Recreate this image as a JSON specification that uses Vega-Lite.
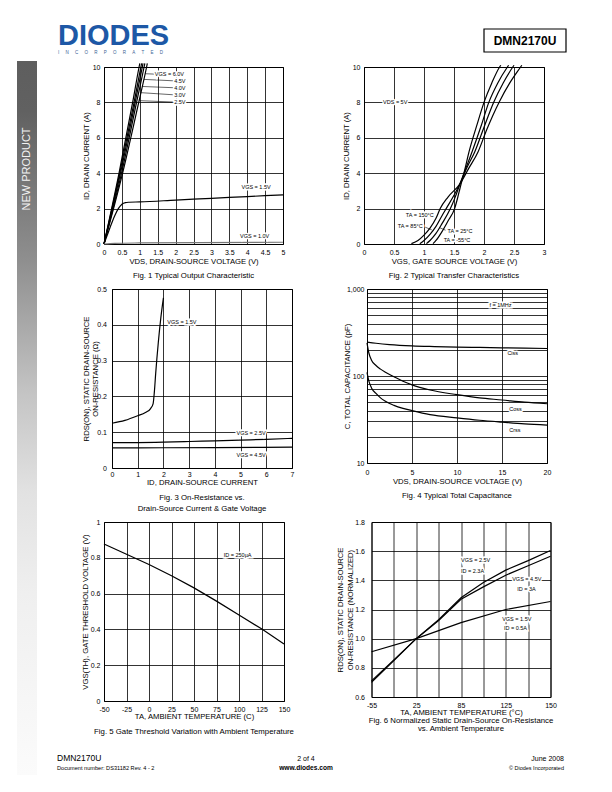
{
"$schema": "https://vega.github.io/schema/vega-lite/v6.json",
"background": "white",
"padding": {"left": 17, "top": 20, "right": 0, "bottom": 0},
"spacing": 0,
"config": {
  "font": "Liberation Sans",
  "view": {"stroke": "black", "strokeWidth": 1},
  "axis": {"domain": false, "ticks": false, "grid": true, "gridColor": "black", "gridWidth": 0.8, "gridOpacity": 1, "labelFontSize": 7, "labelColor": "black", "labelPadding": 4, "labelFlush": false, "labelOverlap": false, "titleFontSize": 7.7, "titleFontWeight": "normal", "titleColor": "black", "titlePadding": 2, "labelFont": "Liberation Sans", "titleFont": "Liberation Sans"},
  "title": {"orient": "bottom", "fontSize": 7.8, "fontWeight": "normal", "color": "black", "frame": "group", "offset": 5, "font": "Liberation Sans"},
  "line": {"color": "black", "strokeWidth": 1.2},
  "text": {"color": "black", "fontSize": 5.5}
},
"datasets": {
  "f1": [
    {"s":"6.0V","x":0,"y":0},{"s":"6.0V","x":0.42,"y":4},{"s":"6.0V","x":0.8,"y":8},{"s":"6.0V","x":0.98,"y":10},{"s":"6.0V","x":1.0,"y":10.2},
    {"s":"4.5V","x":0,"y":0},{"s":"4.5V","x":0.44,"y":4},{"s":"4.5V","x":0.84,"y":8},{"s":"4.5V","x":1.03,"y":10},{"s":"4.5V","x":1.05,"y":10.2},
    {"s":"4.0V","x":0,"y":0},{"s":"4.0V","x":0.46,"y":4},{"s":"4.0V","x":0.87,"y":8},{"s":"4.0V","x":1.07,"y":10},{"s":"4.0V","x":1.09,"y":10.2},
    {"s":"3.0V","x":0,"y":0},{"s":"3.0V","x":0.49,"y":4},{"s":"3.0V","x":0.91,"y":8},{"s":"3.0V","x":1.12,"y":10},{"s":"3.0V","x":1.14,"y":10.2},
    {"s":"2.5V","x":0,"y":0},{"s":"2.5V","x":0.52,"y":4},{"s":"2.5V","x":0.97,"y":8},{"s":"2.5V","x":1.19,"y":10},{"s":"2.5V","x":1.21,"y":10.2},
    {"s":"1.5V","x":0,"y":0},{"s":"1.5V","x":0.1,"y":0.55},{"s":"1.5V","x":0.2,"y":1.1},{"s":"1.5V","x":0.3,"y":1.6},{"s":"1.5V","x":0.4,"y":2.0},{"s":"1.5V","x":0.5,"y":2.25},{"s":"1.5V","x":0.6,"y":2.34},{"s":"1.5V","x":0.7,"y":2.36},{"s":"1.5V","x":1,"y":2.38},{"s":"1.5V","x":2,"y":2.48},{"s":"1.5V","x":3,"y":2.58},{"s":"1.5V","x":4,"y":2.68},{"s":"1.5V","x":5,"y":2.78},
    {"s":"1.0V","x":0,"y":0},{"s":"1.0V","x":0.3,"y":0.04},{"s":"1.0V","x":1,"y":0.06},{"s":"1.0V","x":5,"y":0.1}
  ],
  "f1lab": [
    {"x":1.42,"y":9.6,"t":"VGS = 6.0V"},{"x":1.96,"y":9.22,"t":"4.5V"},{"x":1.96,"y":8.83,"t":"4.0V"},{"x":1.96,"y":8.43,"t":"3.0V"},{"x":1.96,"y":8.02,"t":"2.5V"},
    {"x":3.84,"y":3.22,"t":"VGS = 1.5V"},{"x":3.8,"y":0.47,"t":"VGS = 1.0V"}
  ],
  "f1lead": [
    {"x":1.15,"y":9.62,"x2":1.4,"y2":9.6},{"x":1.11,"y":9.3,"x2":1.94,"y2":9.22},{"x":1.07,"y":8.9,"x2":1.94,"y2":8.83},{"x":1.03,"y":8.55,"x2":1.94,"y2":8.43},{"x":0.98,"y":8.1,"x2":1.94,"y2":8.02}
  ],
  "f2": [
    {"s":"150","x":0.79,"y":0.02},{"s":"150","x":0.9,"y":0.2},{"s":"150","x":1.0,"y":0.5},{"s":"150","x":1.1,"y":0.9},{"s":"150","x":1.2,"y":1.45},{"s":"150","x":1.27,"y":2.0},{"s":"150","x":1.4,"y":2.65},{"s":"150","x":1.6,"y":3.4},{"s":"150","x":1.75,"y":4.3},{"s":"150","x":1.9,"y":5.2},{"s":"150","x":2.05,"y":6.5},{"s":"150","x":2.25,"y":8.0},{"s":"150","x":2.43,"y":9.1},{"s":"150","x":2.61,"y":10},{"s":"150","x":2.63,"y":10.1},
    {"s":"85","x":0.93,"y":0.02},{"s":"85","x":1.0,"y":0.2},{"s":"85","x":1.1,"y":0.55},{"s":"85","x":1.2,"y":1.0},{"s":"85","x":1.3,"y":1.6},{"s":"85","x":1.37,"y":2.0},{"s":"85","x":1.5,"y":2.75},{"s":"85","x":1.6,"y":3.4},{"s":"85","x":1.72,"y":4.35},{"s":"85","x":1.845,"y":5.2},{"s":"85","x":2.0,"y":6.6},{"s":"85","x":2.16,"y":8.0},{"s":"85","x":2.32,"y":9.1},{"s":"85","x":2.48,"y":10},{"s":"85","x":2.5,"y":10.1},
    {"s":"25","x":1.04,"y":0.02},{"s":"25","x":1.1,"y":0.2},{"s":"25","x":1.2,"y":0.6},{"s":"25","x":1.3,"y":1.15},{"s":"25","x":1.44,"y":2.0},{"s":"25","x":1.52,"y":2.65},{"s":"25","x":1.6,"y":3.4},{"s":"25","x":1.7,"y":4.3},{"s":"25","x":1.8,"y":5.2},{"s":"25","x":1.95,"y":6.65},{"s":"25","x":2.08,"y":8.0},{"s":"25","x":2.23,"y":9.1},{"s":"25","x":2.39,"y":10},{"s":"25","x":2.41,"y":10.1},
    {"s":"-55","x":1.15,"y":0.02},{"s":"-55","x":1.2,"y":0.2},{"s":"-55","x":1.3,"y":0.7},{"s":"-55","x":1.4,"y":1.3},{"s":"-55","x":1.51,"y":2.0},{"s":"-55","x":1.56,"y":2.6},{"s":"-55","x":1.6,"y":3.15},{"s":"-55","x":1.68,"y":4.2},{"s":"-55","x":1.75,"y":5.2},{"s":"-55","x":1.88,"y":6.7},{"s":"-55","x":2.0,"y":8.0},{"s":"-55","x":2.13,"y":9.1},{"s":"-55","x":2.26,"y":10},{"s":"-55","x":2.28,"y":10.1}
  ],
  "f2lab": [
    {"x":0.52,"y":8,"t":"VDS = 5V"},{"x":0.93,"y":1.66,"t":"TA = 150°C"},{"x":0.77,"y":1.03,"t":"TA = 85°C"},{"x":1.6,"y":0.75,"t":"TA = 25°C"},{"x":1.55,"y":0.24,"t":"TA = -55°C"}
  ],
  "f2lead": [
    {"x":1.02,"y":0.95,"x2":1.13,"y2":0.8},{"x":1.36,"y":0.78,"x2":1.26,"y2":0.92}
  ],
  "f3": [
    {"s":"1.5V","x":0,"y":0.125},{"s":"1.5V","x":0.5,"y":0.133},{"s":"1.5V","x":1,"y":0.146},{"s":"1.5V","x":1.3,"y":0.155},{"s":"1.5V","x":1.5,"y":0.166},{"s":"1.5V","x":1.6,"y":0.18},{"s":"1.5V","x":1.65,"y":0.215},{"s":"1.5V","x":1.7,"y":0.265},{"s":"1.5V","x":1.8,"y":0.35},{"s":"1.5V","x":1.9,"y":0.42},{"s":"1.5V","x":2.0,"y":0.475},
    {"s":"2.5V","x":0,"y":0.071},{"s":"2.5V","x":1,"y":0.071},{"s":"2.5V","x":2,"y":0.072},{"s":"2.5V","x":3,"y":0.074},{"s":"2.5V","x":4,"y":0.076},{"s":"2.5V","x":5,"y":0.078},{"s":"2.5V","x":6,"y":0.08},{"s":"2.5V","x":7,"y":0.083},
    {"s":"4.5V","x":0,"y":0.056},{"s":"4.5V","x":2,"y":0.0565},{"s":"4.5V","x":4,"y":0.057},{"s":"4.5V","x":7,"y":0.0585}
  ],
  "f3lab": [
    {"x":2.15,"y":0.408,"t":"VGS = 1.5V"},{"x":4.84,"y":0.098,"t":"VGS = 2.5V"},{"x":4.84,"y":0.035,"t":"VGS = 4.5V"}
  ],
  "f4": [
    {"s":"Ciss","x":0,"y":245},{"s":"Ciss","x":1,"y":238},{"s":"Ciss","x":2.5,"y":230},{"s":"Ciss","x":5,"y":222},{"s":"Ciss","x":7.5,"y":218},{"s":"Ciss","x":10,"y":215},{"s":"Ciss","x":12.5,"y":213},{"s":"Ciss","x":15,"y":211},{"s":"Ciss","x":17.5,"y":209},{"s":"Ciss","x":20,"y":207},
    {"s":"Coss","x":0,"y":240},{"s":"Coss","x":0.2,"y":185},{"s":"Coss","x":0.5,"y":152},{"s":"Coss","x":1,"y":132},{"s":"Coss","x":1.5,"y":120},{"s":"Coss","x":2,"y":111},{"s":"Coss","x":3,"y":98},{"s":"Coss","x":4,"y":87},{"s":"Coss","x":5,"y":79},{"s":"Coss","x":7,"y":69},{"s":"Coss","x":10,"y":61},{"s":"Coss","x":12.5,"y":56},{"s":"Coss","x":15,"y":53},{"s":"Coss","x":17.5,"y":50},{"s":"Coss","x":20,"y":48},
    {"s":"Crss","x":0,"y":110},{"s":"Crss","x":0.2,"y":88},{"s":"Crss","x":0.5,"y":73},{"s":"Crss","x":1,"y":63},{"s":"Crss","x":1.5,"y":56},{"s":"Crss","x":2,"y":51.5},{"s":"Crss","x":3,"y":46},{"s":"Crss","x":4,"y":42.5},{"s":"Crss","x":5,"y":40},{"s":"Crss","x":7,"y":36},{"s":"Crss","x":10,"y":33},{"s":"Crss","x":12.5,"y":31},{"s":"Crss","x":15,"y":29.5},{"s":"Crss","x":17.5,"y":28.2},{"s":"Crss","x":20,"y":27.3}
  ],
  "f4lab": [
    {"x":13.6,"y":656,"t":"f = 1MHz"},{"x":15.6,"y":185,"t":"Ciss"},{"x":15.8,"y":42,"t":"Coss"},{"x":15.8,"y":24,"t":"Crss"}
  ],
  "f5": [
    {"x":-50,"y":0.877},{"x":-25,"y":0.82},{"x":0,"y":0.763},{"x":25,"y":0.7},{"x":50,"y":0.632},{"x":75,"y":0.558},{"x":100,"y":0.48},{"x":125,"y":0.403},{"x":150,"y":0.318}
  ],
  "f5lab": [
    {"x":83,"y":0.814,"t":"ID = 250µA"}
  ],
  "f6": [
    {"s":"2.5V","x":-55,"y":0.7},{"s":"2.5V","x":-15,"y":0.85},{"s":"2.5V","x":25,"y":1.0},{"s":"2.5V","x":55,"y":1.13},{"s":"2.5V","x":85,"y":1.28},{"s":"2.5V","x":105,"y":1.385},{"s":"2.5V","x":125,"y":1.47},{"s":"2.5V","x":137.5,"y":1.535},{"s":"2.5V","x":150,"y":1.605},
    {"s":"4.5V","x":-55,"y":0.71},{"s":"4.5V","x":-15,"y":0.855},{"s":"4.5V","x":25,"y":1.0},{"s":"4.5V","x":55,"y":1.125},{"s":"4.5V","x":85,"y":1.27},{"s":"4.5V","x":105,"y":1.355},{"s":"4.5V","x":125,"y":1.435},{"s":"4.5V","x":137.5,"y":1.5},{"s":"4.5V","x":150,"y":1.565},
    {"s":"1.5V","x":-55,"y":0.91},{"s":"1.5V","x":25,"y":1.0},{"s":"1.5V","x":85,"y":1.11},{"s":"1.5V","x":125,"y":1.2},{"s":"1.5V","x":150,"y":1.255}
  ],
  "f6lab": [
    {"x":85,"y":1.542,"t":"VGS = 2.5V"},{"x":85,"y":1.462,"t":"ID = 2.3A"},{"x":128.6,"y":1.411,"t":"VGS = 4.5V"},{"x":131.4,"y":1.343,"t":"ID = 3A"},{"x":121.8,"y":1.137,"t":"VGS = 1.5V"},{"x":123.4,"y":1.073,"t":"ID = 0.5A"}
  ]
},
"hconcat": [
  {
    "width": 20, "height": 755, "view": {"stroke": null},
    "encoding": {
      "x": {"field": "x", "type": "quantitative", "scale": {"domain": [0, 20]}, "axis": null},
      "y": {"field": "y", "type": "quantitative", "scale": {"domain": [20, 775], "reverse": true}, "axis": null}
    },
    "layer": [
      {"data": {"values": [{"x": 0, "x2": 20, "y": 61, "y2": 775}]}, "mark": {"type": "rect", "color": {"gradient": "linear", "x1": 0, "y1": 0, "x2": 0, "y2": 1, "stops": [{"offset": 0, "color": "#5e5e5e"}, {"offset": 0.07, "color": "#616161"}, {"offset": 0.28, "color": "#8f8f8f"}, {"offset": 0.465, "color": "#c4c4c4"}, {"offset": 0.605, "color": "#e2e2e2"}, {"offset": 0.745, "color": "#efefef"}, {"offset": 1, "color": "#fbfbfb"}]}}, "encoding": {"x2": {"field": "x2"}, "y2": {"field": "y2"}}},
      {"data": {"values": [{"x": 9.5, "y": 169, "t": "NEW PRODUCT"}]}, "mark": {"type": "text", "angle": 270, "fontSize": 11, "color": "#f2f2f2", "align": "center", "baseline": "middle"}, "encoding": {"text": {"field": "t"}}}
    ]
  },
  {
    "spacing": 4,
    "vconcat": [
      {
        "width": 529, "height": 36, "view": {"stroke": null},
        "encoding": {
          "x": {"field": "x", "type": "quantitative", "scale": {"domain": [0, 529]}, "axis": null},
          "y": {"field": "y", "type": "quantitative", "scale": {"domain": [0, 36], "reverse": true}, "axis": null}
        },
        "layer": [
          {"data": {"values": [{"x": 447, "y": 9, "x2": 529, "y2": 32}]}, "mark": {"type": "rect", "filled": false, "color": "black", "strokeWidth": 1.2}, "encoding": {"x2": {"field": "x2"}, "y2": {"field": "y2"}}},
          {"data": {"values": [{"x": 488, "y": 25, "t": "DMN2170U"}]}, "mark": {"type": "text", "fontSize": 12, "fontWeight": "bold", "align": "center", "baseline": "alphabetic"}, "encoding": {"text": {"field": "t"}}},
          {"data": {"values": [{"x": 21, "y": 25, "t": "DIODES"}]}, "mark": {"type": "text", "font": "Liberation Sans", "fontSize": 29, "fontWeight": "bold", "color": "#1d58a6", "align": "left", "baseline": "alphabetic"}, "encoding": {"text": {"field": "t"}}},
          {"data": {"values": [{"x": 21, "y": 33.5, "t": "I\u00a0\u00a0\u00a0\u00a0\u00a0N\u00a0\u00a0\u00a0\u00a0\u00a0C\u00a0\u00a0\u00a0\u00a0\u00a0O\u00a0\u00a0\u00a0\u00a0\u00a0R\u00a0\u00a0\u00a0\u00a0\u00a0P\u00a0\u00a0\u00a0\u00a0\u00a0O\u00a0\u00a0\u00a0\u00a0\u00a0R\u00a0\u00a0\u00a0\u00a0\u00a0A\u00a0\u00a0\u00a0\u00a0\u00a0T\u00a0\u00a0\u00a0\u00a0\u00a0E\u00a0\u00a0\u00a0\u00a0\u00a0D"}]}, "mark": {"type": "text", "fontSize": 4.5, "color": "#3a5f94", "align": "left", "baseline": "alphabetic"}, "encoding": {"text": {"field": "t"}}}
        ]
      },
      {
        "spacing": 0,
        "hconcat": [
          {"width": 44, "height": 1, "view": {"stroke": null}, "data": {"values": [{}]}, "mark": {"type": "point", "opacity": 0, "size": 0}},
          {
            "spacing": 55,
            "hconcat": [
              {
                "width": 179, "height": 177,
                "title": {"text": "Fig. 1 Typical Output Characteristic", "offset": 7},
                "encoding": {
                  "x": {"field": "x", "type": "quantitative", "scale": {"domain": [0, 5], "nice": false}, "axis": {"values": [0, 0.5, 1, 1.5, 2, 2.5, 3, 3.5, 4, 4.5, 5], "format": "~g", "title": "VDS, DRAIN-SOURCE VOLTAGE (V)"}},
                  "y": {"field": "y", "type": "quantitative", "scale": {"domain": [0, 10], "nice": false}, "axis": {"values": [0, 2, 4, 6, 8, 10], "title": "ID, DRAIN CURRENT (A)"}}
                },
                "layer": [
                  {"data": {"name": "f1"}, "mark": {"type": "line", "interpolate": "monotone"}, "encoding": {"detail": {"field": "s"}, "color": {"field": "s", "type": "nominal", "scale": {"domain": ["6.0V", "4.5V", "4.0V", "3.0V", "2.5V", "1.5V", "1.0V"], "range": ["black", "black", "black", "black", "black", "black", "#777777"]}, "legend": null}}},
                  {"data": {"name": "f1lead"}, "mark": {"type": "rule", "strokeWidth": 0.6, "color": "black"}, "encoding": {"x2": {"field": "x2"}, "y2": {"field": "y2"}}},
                  {"data": {"name": "f1lab"}, "mark": {"type": "text", "align": "left", "baseline": "middle", "fill": "white", "stroke": "white", "strokeWidth": 3}, "encoding": {"text": {"field": "t"}}},
                  {"data": {"name": "f1lab"}, "mark": {"type": "text", "align": "left", "baseline": "middle"}, "encoding": {"text": {"field": "t"}}}
                ]
              },
              {
                "width": 180, "height": 177,
                "title": {"text": "Fig. 2 Typical Transfer Characteristics", "offset": 7},
                "encoding": {
                  "x": {"field": "x", "type": "quantitative", "scale": {"domain": [0, 3], "nice": false}, "axis": {"values": [0, 0.5, 1, 1.5, 2, 2.5, 3], "format": "~g", "title": "VGS, GATE SOURCE VOLTAGE (V)"}},
                  "y": {"field": "y", "type": "quantitative", "scale": {"domain": [0, 10], "nice": false}, "axis": {"values": [0, 2, 4, 6, 8, 10], "title": "ID, DRAIN CURRENT (A)"}}
                },
                "layer": [
                  {"data": {"name": "f2"}, "mark": {"type": "line", "interpolate": "monotone"}, "encoding": {"detail": {"field": "s"}}},
                  {"data": {"name": "f2lead"}, "mark": {"type": "rule", "strokeWidth": 0.6, "color": "black"}, "encoding": {"x2": {"field": "x2"}, "y2": {"field": "y2"}}},
                  {"data": {"name": "f2lab"}, "mark": {"type": "text", "align": "center", "baseline": "middle", "fill": "white", "stroke": "white", "strokeWidth": 3}, "encoding": {"text": {"field": "t"}}},
                  {"data": {"name": "f2lab"}, "mark": {"type": "text", "align": "center", "baseline": "middle"}, "encoding": {"text": {"field": "t"}}}
                ]
              }
            ]
          }
        ]
      },
      {
        "spacing": 0,
        "hconcat": [
          {"width": 43.5, "height": 1, "view": {"stroke": null}, "data": {"values": [{}]}, "mark": {"type": "point", "opacity": 0, "size": 0}},
          {
            "spacing": 47,
            "hconcat": [
              {
                "width": 180, "height": 179,
                "title": {"text": ["Fig. 3 On-Resistance  vs.", "Drain-Source Current & Gate Voltage"], "offset": 8, "lineHeight": 11},
                "encoding": {
                  "x": {"field": "x", "type": "quantitative", "scale": {"domain": [0, 7], "nice": false}, "axis": {"values": [0, 1, 2, 3, 4, 5, 6, 7], "title": "ID, DRAIN-SOURCE CURRENT", "labelPadding": 2.5, "titlePadding": 0.5}},
                  "y": {"field": "y", "type": "quantitative", "scale": {"domain": [0, 0.5], "nice": false}, "axis": {"values": [0, 0.1, 0.2, 0.3, 0.4, 0.5], "format": "~g", "title": ["RDS(ON), STATIC DRAIN-SOURCE", "ON-RESISTANCE (Ω)"], "labelPadding": 5.5, "titlePadding": -3}}
                },
                "layer": [
                  {"data": {"name": "f3"}, "mark": {"type": "line", "interpolate": "monotone"}, "encoding": {"detail": {"field": "s"}, "color": {"field": "s", "type": "nominal", "scale": {"domain": ["1.5V", "2.5V", "4.5V"], "range": ["black", "#444444", "#444444"]}, "legend": null}}},
                  {"data": {"name": "f3lab"}, "mark": {"type": "text", "align": "left", "baseline": "middle", "fill": "white", "stroke": "white", "strokeWidth": 3}, "encoding": {"text": {"field": "t"}}},
                  {"data": {"name": "f3lab"}, "mark": {"type": "text", "align": "left", "baseline": "middle"}, "encoding": {"text": {"field": "t"}}}
                ]
              },
              {
                "width": 180, "height": 174,
                "title": {"text": "Fig. 4  Typical Total Capacitance", "offset": 6.5},
                "encoding": {
                  "x": {"field": "x", "type": "quantitative", "scale": {"domain": [0, 20], "nice": false}, "axis": {"values": [0, 5, 10, 15, 20], "title": "VDS, DRAIN-SOURCE VOLTAGE (V)", "labelPadding": 5.5}},
                  "y": {"field": "y", "type": "quantitative", "scale": {"type": "log", "domain": [10, 1000], "nice": false}, "axis": {"values": [10, 20, 30, 40, 50, 60, 70, 80, 90, 100, 200, 300, 400, 500, 600, 700, 800, 900, 1000], "labelExpr": "datum.value == 10 || datum.value == 100 || datum.value == 1000 ? format(datum.value, ',') : ''", "title": "C, TOTAL CAPACITANCE (pF)", "labelPadding": 3, "titlePadding": -5}}
                },
                "layer": [
                  {"data": {"name": "f4"}, "mark": {"type": "line", "interpolate": "monotone"}, "encoding": {"detail": {"field": "s"}}},
                  {"data": {"name": "f4lab"}, "mark": {"type": "text", "align": "left", "baseline": "middle", "fill": "white", "stroke": "white", "strokeWidth": 3}, "encoding": {"text": {"field": "t"}}},
                  {"data": {"name": "f4lab"}, "mark": {"type": "text", "align": "left", "baseline": "middle"}, "encoding": {"text": {"field": "t"}}}
                ]
              }
            ]
          }
        ]
      },
      {
        "spacing": 0,
        "hconcat": [
          {"width": 43, "height": 1, "view": {"stroke": null}, "data": {"values": [{}]}, "mark": {"type": "point", "opacity": 0, "size": 0}},
          {
            "spacing": 40.5,
            "hconcat": [
              {
                "width": 180, "height": 179,
                "title": {"text": "Fig. 5 Gate Threshold Variation with Ambient Temperature", "offset": 8},
                "encoding": {
                  "x": {"field": "x", "type": "quantitative", "scale": {"domain": [-50, 150], "nice": false}, "axis": {"values": [-50, -25, 0, 25, 50, 75, 100, 125, 150], "labelExpr": "replace(datum.label, '−', '-')", "title": "TA, AMBIENT TEMPERATURE (C)", "titlePadding": 0.5}},
                  "y": {"field": "y", "type": "quantitative", "scale": {"domain": [0, 1], "nice": false}, "axis": {"values": [0, 0.2, 0.4, 0.6, 0.8, 1], "format": "~g", "title": "VGS(TH), GATE THRESHOLD VOLTAGE (V)", "titlePadding": 1}}
                },
                "layer": [
                  {"data": {"name": "f5"}, "mark": {"type": "line"}},
                  {"data": {"name": "f5lab"}, "mark": {"type": "text", "align": "left", "baseline": "middle", "fill": "white", "stroke": "white", "strokeWidth": 3}, "encoding": {"text": {"field": "t"}}},
                  {"data": {"name": "f5lab"}, "mark": {"type": "text", "align": "left", "baseline": "middle"}, "encoding": {"text": {"field": "t"}}}
                ]
              },
              {
                "width": 179, "height": 175,
                "title": {"text": ["Fig. 6 Normalized Static Drain-Source On-Resistance", "vs. Ambient Temperature"], "lineHeight": 8.2, "offset": 1},
                "encoding": {
                  "x": {"field": "x", "type": "quantitative", "scale": {"domain": [-55, 25, 85, 125, 150], "range": [0, 44.75, 89.5, 134.25, 179]}, "axis": {"values": [-55, -15, 25, 55, 85, 105, 125, 137.5, 150], "labelExpr": "datum.value == -55 || datum.value == 25 || datum.value == 85 || datum.value == 125 || datum.value == 150 ? replace(datum.label, '−', '-') : ''", "title": "TA, AMBIENT TEMPERATURE (°C)", "titlePadding": 0.5}},
                  "y": {"field": "y", "type": "quantitative", "scale": {"domain": [0.6, 1.8], "nice": false, "zero": false}, "axis": {"values": [0.6, 0.8, 1, 1.2, 1.4, 1.6, 1.8], "format": ".1f", "title": ["RDS(ON), STATIC DRAIN-SOURCE", "ON-RESISTANCE (NORMALIZED)"], "labelPadding": 7, "titlePadding": 0.5}}
                },
                "layer": [
                  {"data": {"name": "f6"}, "mark": {"type": "line"}, "encoding": {"detail": {"field": "s"}}},
                  {"data": {"name": "f6lab"}, "mark": {"type": "text", "align": "left", "baseline": "middle", "fill": "white", "stroke": "white", "strokeWidth": 3}, "encoding": {"text": {"field": "t"}}},
                  {"data": {"name": "f6lab"}, "mark": {"type": "text", "align": "left", "baseline": "middle"}, "encoding": {"text": {"field": "t"}}}
                ]
              }
            ]
          }
        ]
      },
      {
        "width": 529, "height": 36, "view": {"stroke": null},
        "encoding": {
          "x": {"field": "x", "type": "quantitative", "scale": {"domain": [0, 529]}, "axis": null},
          "y": {"field": "y", "type": "quantitative", "scale": {"domain": [0, 36], "reverse": true}, "axis": null}
        },
        "layer": [
          {"data": {"values": [{"x": 20, "y": 19.5, "t": "DMN2170U"}]}, "mark": {"type": "text", "fontSize": 8.5, "align": "left", "baseline": "alphabetic"}, "encoding": {"text": {"field": "t"}}},
          {"data": {"values": [{"x": 20, "y": 28.5, "t": "Document number: DS31182 Rev. 4 - 2"}]}, "mark": {"type": "text", "fontSize": 5.6, "align": "left", "baseline": "alphabetic"}, "encoding": {"text": {"field": "t"}}},
          {"data": {"values": [{"x": 269, "y": 19.5, "t": "2 of 4"}]}, "mark": {"type": "text", "fontSize": 7, "align": "center", "baseline": "alphabetic"}, "encoding": {"text": {"field": "t"}}},
          {"data": {"values": [{"x": 269, "y": 28.5, "t": "www.diodes.com"}]}, "mark": {"type": "text", "fontSize": 6.6, "fontWeight": "bold", "align": "center", "baseline": "alphabetic"}, "encoding": {"text": {"field": "t"}}},
          {"data": {"values": [{"x": 527, "y": 19.5, "t": "June 2008"}]}, "mark": {"type": "text", "fontSize": 7, "align": "right", "baseline": "alphabetic"}, "encoding": {"text": {"field": "t"}}},
          {"data": {"values": [{"x": 527, "y": 28.5, "t": "© Diodes Incorporated"}]}, "mark": {"type": "text", "fontSize": 5.5, "align": "right", "baseline": "alphabetic"}, "encoding": {"text": {"field": "t"}}}
        ]
      }
    ]
  }
]
}
